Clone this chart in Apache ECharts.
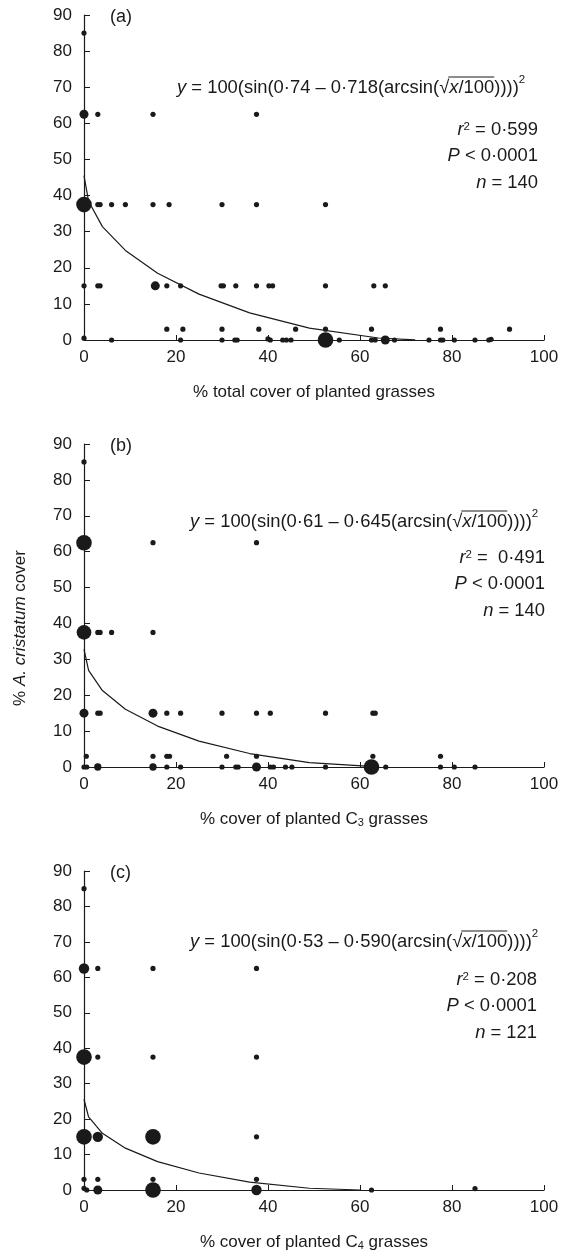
<!DOCTYPE html>
<html>
<head>
<meta charset="utf-8">
<script src="https://cdn.jsdelivr.net/npm/echarts@6/dist/echarts.min.js"></script>
<style>
html,body{margin:0;padding:0;background:#fff;}
#c{width:575px;height:1252px;}
</style>
</head>
<body>
<div id="c"></div>
<script>
// ---------- DATA ----------
// scatter points: [x, y, count of coincident observations]
const pointsA = [
  [0,85,1],
  [0,62.5,3],[3,62.5,1],[15,62.5,1],[37.5,62.5,1],
  [0,37.5,9],[3,37.5,1],[3.5,37.5,1],[6,37.5,1],[9,37.5,1],[15,37.5,1],[18.5,37.5,1],[30,37.5,1],[37.5,37.5,1],[52.5,37.5,1],
  [0,15,1],[3,15,1],[3.5,15,1],[15.5,15,3],[18,15,1],[21,15,1],[29.8,15,1],[30.3,15,1],[33,15,1],[37.5,15,1],[40.2,15,1],[41,15,1],[52.5,15,1],[63,15,1],[65.5,15,1],
  [18,3,1],[21.5,3,1],[30,3,1],[38,3,1],[46,3,1],[52.5,3,1],[62.5,3,1],[77.5,3,1],[92.5,3,1],
  [0,0.5,1],[6,0,1],[21,0,1],[30,0,1],[32.8,0,1],[33.3,0,1],[40,0.3,1],[40.5,0,1],[43.2,0,1],[44,0,1],[45,0,1],[52.5,0,9],[55.5,0,1],[62.5,0,1],[63.3,0,1],[65.5,0,3],[67.5,0,1],[75,0,1],[77.5,0,1],[78,0,1],[80.5,0,1],[85,0,1],[88,0,1],[88.5,0.2,1]
];
const pointsB = [
  [0,85,1],
  [0,62.5,9],[15,62.5,1],[37.5,62.5,1],
  [0,37.5,8],[3,37.5,1],[3.5,37.5,1],[6,37.5,1],[15,37.5,1],
  [0,15,3],[3,15,1],[3.5,15,1],[15,15,3],[18,15,1],[21,15,1],[30,15,1],[37.5,15,1],[40.5,15,1],[52.5,15,1],[62.8,15,1],[63.3,15,1],
  [0.5,3,1],[15,3,1],[18,3,1],[18.6,3,1],[31,3,1],[37.5,3,1],[62.8,3,1],[77.5,3,1],
  [0,0,1],[0.6,0,1],[3,0,2],[15,0,2],[18,0,1],[21,0,1],[30,0,1],[33,0,1],[33.5,0,1],[37.5,0,3],[40.5,0,1],[41.2,0,1],[43.8,0,1],[45.2,0,1],[52.5,0,1],[62.5,0,9],[65.6,0,1],[77.5,0,1],[80.5,0,1],[85,0,1]
];
const pointsC = [
  [0,85,1],
  [0,62.5,4],[3,62.5,1],[15,62.5,1],[37.5,62.5,1],
  [0,37.5,9],[3,37.5,1],[15,37.5,1],[37.5,37.5,1],
  [0,15,9],[3,15,4],[15,15,9],[37.5,15,1],
  [0,3,1],[3,3,1],[15,3,1],[37.5,3,1],
  [0,0.5,1],[0.6,0,1],[3,0,3],[15,0,9],[37.5,0,4],[62.5,0,1],[85,0.4,1]
];
// fitted curves: [x, y]
const curveA = [[0,45.5],[1,38.4],[4,31.4],[9,24.8],[16,18.5],[25,12.7],[36,7.5],[49,3.3],[64,0.55],[72,0.02]];
const curveB = [[0,32.8],[1,26.9],[4,21.3],[9,16.1],[16,11.4],[25,7.2],[36,3.75],[49,1.2],[64,0.01]];
const curveC = [[0,25.6],[1,20.6],[4,16.0],[9,11.8],[16,8.0],[25,4.8],[36,2.2],[49,0.5],[60,0.0]];
// tick labels / text
const xTicks = [0,20,40,60,80,100];
const yTicks = [0,10,20,30,40,50,60,70,80,90];
const panelLabels = ['(a)','(b)','(c)'];
const xNames = ['% total cover of planted grasses','% cover of planted C{s|3} grasses','% cover of planted C{s|4} grasses'];
const yName = '% {i|A. cristatum} cover';
const eqA = ['0·74','0·718'], eqB = ['0·61','0·645'], eqC = ['0·53','0·590'];
const r2 = ['0·599',' 0·491','0·208'];
const pVals = ['0·0001','0·0001','0·0001'];
const nVals = ['140','140','121'];

// ---------- LAYOUT ----------
const FONT = '"Liberation Sans", Arial, Helvetica, sans-serif';
const FS = 17;
const FE = 18.4;
const INK = '#1a1a1a';
const grids = [
  {left:84, top:15, width:460, height:325},
  {left:84, top:444, width:460, height:323},
  {left:84, top:871, width:460, height:322}
];
const allPoints = [pointsA, pointsB, pointsC];
const curves = [curveA, curveB, curveC];

const chart = echarts.init(document.getElementById('c'), null, {renderer:'canvas'});

const xAxes = [], yAxes = [], series = [], titles = [];
for (let i=0;i<3;i++){
  xAxes.push({
    type:'value', gridIndex:i, min:xTicks[0], max:xTicks[xTicks.length-1], interval:20,
    axisLine:{show:true, onZero:true, lineStyle:{color:INK,width:1.2}},
    axisTick:{show:true, inside:true, length:5, lineStyle:{color:INK,width:1}},
    axisLabel:{fontSize:FS, color:INK, fontFamily:FONT, margin:9},
    splitLine:{show:false},
    name:xNames[i], nameLocation:'middle', nameGap:44,
    nameTextStyle:{fontSize:FS, color:INK, fontFamily:FONT,
      rich:{s:{fontSize:11, color:INK, fontFamily:FONT, verticalAlign:'bottom', padding:[6,0,0,0]}}}
  });
  yAxes.push({
    type:'value', gridIndex:i, min:yTicks[0], max:yTicks[yTicks.length-1], interval:10,
    axisLine:{show:true, lineStyle:{color:INK,width:1.2}},
    axisTick:{show:true, inside:true, length:6, lineStyle:{color:INK,width:1}},
    axisLabel:{fontSize:FS, color:INK, fontFamily:FONT, margin:12},
    splitLine:{show:false}
  });
  series.push({
    type:'line', xAxisIndex:i, yAxisIndex:i, data:curves[i], showSymbol:false, symbol:'none',
    lineStyle:{color:INK, width:1.2}, z:2, silent:true, animation:false
  });
  series.push({
    type:'scatter', xAxisIndex:i, yAxisIndex:i, data:allPoints[i], clip:false,
    symbolSize:(v)=>5.2*Math.sqrt(v[2]),
    itemStyle:{color:INK, opacity:1}, z:3, animation:false
  });
  titles.push({
    text:panelLabels[i], left:105, top:grids[i].top-12,
    textStyle:{fontSize:18, fontWeight:'normal', color:INK, fontFamily:FONT}
  });
}

// ---------- equation + statistics annotations ----------
const mctx = document.createElement('canvas').getContext('2d');
function tw(t, italic, size){
  mctx.font = (italic?'italic ':'') + size + 'px ' + FONT;
  return mctx.measureText(t).width;
}
function equation(x0, yc, a, b){
  const els = [];
  const pieces = [
    {t:'y', it:true},
    {t:' = 100(sin(' + a + ' – ' + b + '(arcsin('},
    {t:'√'},
    {t:'x', it:true, ov:true},
    {t:'/100', ov:true},
    {t:'))))'},
    {t:'2', sup:true}
  ];
  let x = x0, ovStart=null, ovEnd=null;
  for (const p of pieces){
    const size = p.sup ? 11.5 : FE;
    const w = tw(p.t, p.it, size);
    if (p.ov && ovStart===null) ovStart = x;
    els.push({type:'text', x:x, y: p.sup ? yc-8 : yc, z:10,
      style:{text:p.t, fontSize:size, fontFamily:FONT, fontStyle:p.it?'italic':'normal',
        fill:INK, align:'left', verticalAlign:'middle'}});
    x += w;
    if (p.ov) ovEnd = x;
  }
  els.push({type:'line', z:10, shape:{x1:ovStart-1, y1:yc-11, x2:ovEnd, y2:yc-11},
    style:{stroke:INK, lineWidth:1}});
  return els;
}
function stats(xr, y1, r, p, n){
  const base = {fontSize:FE, fontFamily:FONT, fill:INK, align:'right', verticalAlign:'middle'};
  const rich = {i:{fontSize:FE, fontFamily:FONT, fontStyle:'italic', fill:INK},
                s:{fontSize:11.5, fontFamily:FONT, fill:INK, verticalAlign:'top'}};
  return [
    {type:'text', x:xr, y:y1, z:10, style:Object.assign({}, base, {text:'{i|r}{s|2} = ' + r, rich:rich})},
    {type:'text', x:xr, y:y1+26, z:10, style:Object.assign({}, base, {text:'{i|P} < ' + p, rich:rich})},
    {type:'text', x:xr, y:y1+53, z:10, style:Object.assign({}, base, {text:'{i|n} = ' + n, rich:rich})}
  ];
}
const yNameEl = {type:'text', x:20, y:628, rotation:Math.PI/2, z:10,
  style:{text:yName, fontSize:FS, fontFamily:FONT, fill:INK, align:'center', verticalAlign:'middle',
    rich:{i:{fontSize:FS, fontFamily:FONT, fontStyle:'italic', fill:INK}}}};
const graphics = [].concat(
  equation(177, 88, eqA[0], eqA[1]),
  stats(538, 130, r2[0], pVals[0], nVals[0]),
  equation(190, 522, eqB[0], eqB[1]),
  stats(545, 558, r2[1], pVals[1], nVals[1]),
  equation(190, 942, eqC[0], eqC[1]),
  stats(537, 980, r2[2], pVals[2], nVals[2]),
  [yNameEl]
);

chart.setOption({
  animation:false,
  backgroundColor:'#fff',
  title:titles,
  grid:grids,
  xAxis:xAxes,
  yAxis:yAxes,
  series:series,
  graphic:graphics
});
</script>
</body>
</html>
